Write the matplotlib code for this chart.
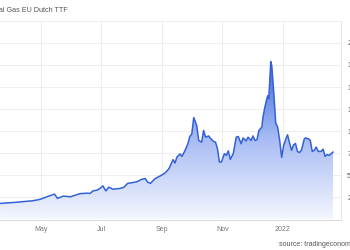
import numpy as np
import pandas as pd
import matplotlib
matplotlib.use('Agg')
import matplotlib.pyplot as plt
import matplotlib.dates as mdates
from matplotlib.colors import LinearSegmentedColormap

plt.rcParams['font.family'] = ['Liberation Sans', 'DejaVu Sans']

# daily close (EUR/MWh)
dates = ['2021-03-21', '2021-04-05', '2021-04-23', '2021-04-30', '2021-05-10', '2021-05-15',
         '2021-05-18', '2021-05-24', '2021-05-31', '2021-06-10', '2021-06-17', '2021-06-20',
         '2021-06-23', '2021-06-27', '2021-06-30', '2021-07-03', '2021-07-06', '2021-07-09',
         '2021-07-13', '2021-07-20', '2021-07-24', '2021-07-28', '2021-08-06', '2021-08-11',
         '2021-08-15', '2021-08-17', '2021-08-20', '2021-08-25', '2021-08-30', '2021-09-04',
         '2021-09-08', '2021-09-12', '2021-09-14', '2021-09-16', '2021-09-19', '2021-09-21',
         '2021-09-24', '2021-09-27', '2021-09-29', '2021-10-01', '2021-10-03', '2021-10-06',
         '2021-10-08', '2021-10-11', '2021-10-13', '2021-10-15', '2021-10-18', '2021-10-20',
         '2021-10-23', '2021-10-25', '2021-10-27', '2021-10-29', '2021-10-31', '2021-11-03',
         '2021-11-05', '2021-11-07', '2021-11-09', '2021-11-12', '2021-11-15', '2021-11-17',
         '2021-11-20', '2021-11-22', '2021-11-25', '2021-11-27', '2021-11-30', '2021-12-02',
         '2021-12-04', '2021-12-06', '2021-12-08', '2021-12-11', '2021-12-12', '2021-12-14',
         '2021-12-16', '2021-12-17', '2021-12-18', '2021-12-20', '2021-12-21', '2021-12-23',
         '2021-12-25', '2021-12-27', '2021-12-29', '2021-12-31', '2022-01-02', '2022-01-05',
         '2022-01-06', '2022-01-08', '2022-01-10', '2022-01-12', '2022-01-14', '2022-01-16',
         '2022-01-18', '2022-01-20', '2022-01-23', '2022-01-24', '2022-01-27', '2022-01-29',
         '2022-01-31', '2022-02-02', '2022-02-04', '2022-02-06', '2022-02-09', '2022-02-11',
         '2022-02-13', '2022-02-15', '2022-02-17', '2022-02-21']
prices = [18.2, 19.4, 21.2, 22.7, 26.8, 28.7,
          23.9, 26.5, 25.7, 29.3, 29.8, 29.5,
          32.4, 33.2, 35.1, 38.1, 32.4, 36.6,
          34.3, 35.1, 36.3, 40.8, 42.6, 45.3,
          46.4, 42.6, 40.8, 46.4, 49.3, 52.7,
          57.7, 67.8, 64.0, 70.7, 74.3, 71.5,
          77.7, 85.6, 94.0, 96.8, 115.4, 106.4,
          89.5, 87.6, 100.8, 93.2, 94.6, 91.8,
          88.4, 87.6, 80.2, 65.1, 65.1, 74.5,
          72.6, 77.7, 68.1, 74.5, 93.2, 94.0,
          85.8, 92.3, 89.0, 93.2, 89.5, 94.6,
          89.5, 90.4, 100.8, 104.7, 115.4, 127.0,
          136.8, 140.2, 136.8, 178.8, 174.0, 143.9,
          109.2, 104.5, 89.5, 70.4, 83.9, 93.5,
          95.9, 86.7, 78.3, 84.5, 86.1, 77.1,
          75.8, 78.3, 91.4, 92.3, 91.4, 89.5,
          77.1, 78.3, 82.0, 77.1, 77.1, 79.6,
          71.5, 73.5, 72.6, 76.3]

month_ticks = ['2021-05-01', '2021-07-01', '2021-09-01', '2021-11-01', '2022-01-01']
month_labels = ['May', 'Jul', 'Sep', 'Nov', '2022']
y_ticks = [25, 50, 75, 100, 125, 150, 175, 200]

x = mdates.date2num(pd.to_datetime(dates))
y = np.array(prices)

fig = plt.figure(figsize=(3.5, 2.5), dpi=100)
ax = fig.add_axes([0, 0.122, 0.974, 0.795])

# gradient fill under the line
poly = ax.fill_between(x, 0, y, color='none', lw=0)
cmap = LinearSegmentedColormap.from_list('ttf', ['#f4f6fe', '#a9bdf4', '#3d68de'])
img = ax.imshow(np.linspace(0, 1, 256).reshape(-1, 1), cmap=cmap, aspect='auto',
                extent=[x[0], x[-1], 0, y.max()], origin='lower', zorder=2)
img.set_clip_path(poly.get_paths()[0], transform=ax.transData)
ax.plot(x, y, color='#3461d6', lw=1.1, zorder=3)

may1 = mdates.date2num(pd.Timestamp('2021-05-01'))
ax.set_xlim(may1 - 41.2, mdates.date2num(pd.Timestamp('2022-03-01')))
ax.set_ylim(0, 225)

ax.set_xticks(mdates.date2num(pd.to_datetime(month_ticks)))
ax.set_xticklabels(month_labels)
ax.set_yticks(y_ticks)
ax.set_yticklabels([str(t) for t in y_ticks])
ax.yaxis.tick_right()
ax.tick_params(axis='x', length=0, pad=4.5, labelsize=5, labelcolor='#777777')
ax.tick_params(axis='y', length=0, pad=4.5, labelsize=5, labelcolor='#555555')
ax.grid(True, color='#ebebeb', lw=0.6, zorder=0)
ax.set_axisbelow(True)

ax.spines['left'].set_visible(False)
ax.spines['top'].set_color('#ebebeb')
ax.spines['top'].set_linewidth(0.6)
ax.spines['right'].set_color('#e3e3e3')
ax.spines['right'].set_linewidth(0.6)
ax.spines['bottom'].set_color('#d8d8d8')
ax.spines['bottom'].set_linewidth(0.7)

fig.text(68 / 350, 1 - 10 / 250, 'Natural Gas EU Dutch TTF', ha='right', va='center',
         fontsize=5.2, color='#555555')
fig.text(279 / 350, 1 - 244 / 250, 'source: tradingeconomics.com', ha='left', va='center',
         fontsize=5, color='#555555')

fig.savefig('out.png', dpi=100, facecolor='white')
